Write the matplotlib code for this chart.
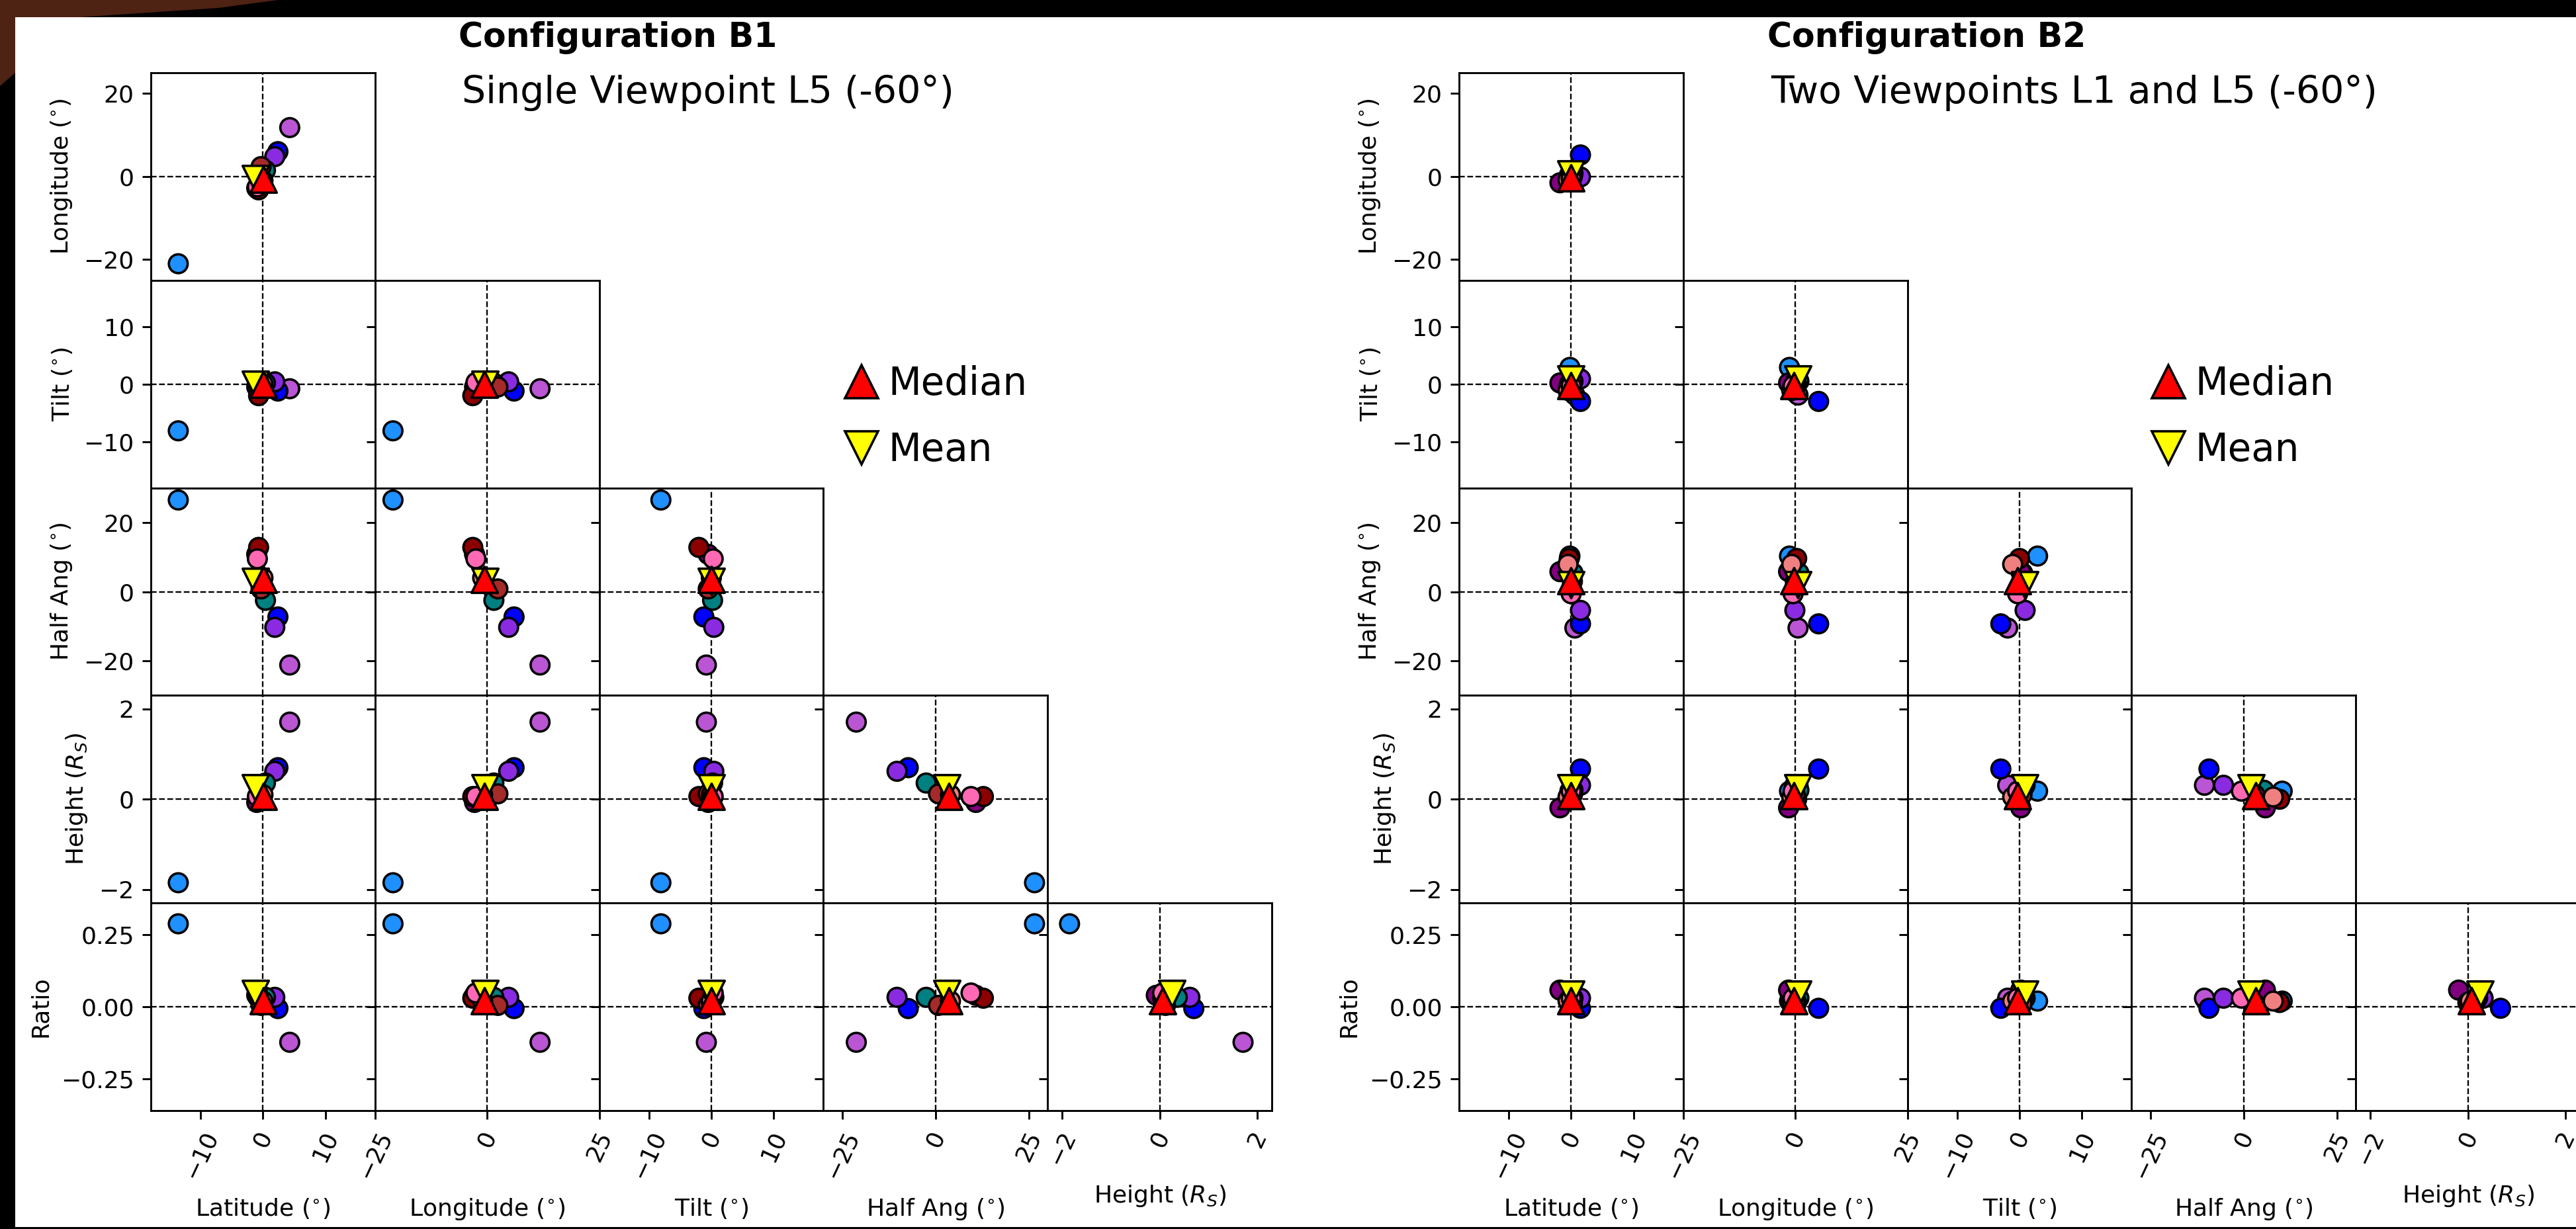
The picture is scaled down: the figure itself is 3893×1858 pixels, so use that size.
import matplotlib.pyplot as plt
from matplotlib.lines import Line2D
from matplotlib.patches import Rectangle, Polygon

W, H = 3893, 1858
DPI = 260

# parameter order: latitude, longitude, tilt, half angle, height, ratio
axis_labels = [r'Latitude ($^{\circ}$)', r'Longitude ($^{\circ}$)', r'Tilt ($^{\circ}$)',
               r'Half Ang ($^{\circ}$)', r'Height ($R_S$)', 'Ratio']
limits = [18, 25, 18, 30, 2.3, 0.36]
xticks = [[-10, 0, 10], [-25, 0, 25], [-10, 0, 10], [-25, 0, 25], [-2, 0, 2]]
yticks = [[-20, 0, 20], [-10, 0, 10], [-20, 0, 20], [-2, 0, 2], [-0.25, 0, 0.25]]

member_colors = ['dodgerblue', 'mediumorchid', 'blue', 'blueviolet', 'teal',
                 'purple', 'darkred', 'brown', 'lightcoral', 'hotpink']

# configuration B1: single viewpoint L5
b1_lat = [-13.6, 4.3, 2.4, 1.9, 0.4, -1.0, -0.7, -0.3, 0.0, -0.9]
b1_lon = [-21.0, 11.8, 6.0, 4.8, 1.5, -2.8, -3.2, 2.4, -1.0, -2.5]
b1_tilt = [-8.1, -0.8, -1.2, 0.4, 0.2, -0.5, -2.0, -0.5, 0.0, 0.3]
b1_half = [26.5, -21.2, -7.3, -10.3, -2.5, 10.8, 12.8, 0.8, 4.0, 9.5]
b1_height = [-1.85, 1.71, 0.70, 0.62, 0.36, -0.07, 0.06, 0.12, 0.10, 0.06]
b1_ratio = [0.288, -0.123, -0.006, 0.033, 0.033, 0.040, 0.030, 0.005, 0.020, 0.048]
b1_median = [0.1, -0.6, 0.0, 3.5, 0.06, 0.02]
b1_mean = [-1.2, -0.5, 0.0, 3.0, 0.25, 0.045]

# configuration B2: viewpoints L1 and L5
b2_lat = [-0.2, 0.6, 1.5, 1.5, 0.3, -1.8, -0.3, 0.2, -0.5, 0.0]
b2_lon = [-1.3, 0.6, 5.2, -0.1, 0.8, -1.5, 0.3, 0.0, -0.8, -0.5]
b2_tilt = [2.9, -1.9, -3.0, 0.9, 0.5, 0.2, 0.0, 0.4, -1.1, -0.3]
b2_half = [10.3, -10.5, -9.3, -5.4, 5.4, 5.8, 9.6, 3.0, 7.9, -0.6]
b2_height = [0.18, 0.31, 0.67, 0.31, 0.20, -0.19, 0.00, 0.10, 0.05, 0.18]
b2_ratio = [0.020, 0.030, -0.005, 0.030, 0.030, 0.058, 0.015, 0.010, 0.020, 0.030]
b2_median = [0.0, -0.3, -0.3, 3.2, 0.08, 0.02]
b2_mean = [0.0, 0.6, 0.9, 2.0, 0.25, 0.043]

configs = [
    dict(data=[b1_lat, b1_lon, b1_tilt, b1_half, b1_height, b1_ratio],
         median=b1_median, mean=b1_mean, x0=228,
         title='Configuration B1', subtitle='Single Viewpoint L5 (-60°)',
         title_x=693, legend_x=1273),
    dict(data=[b2_lat, b2_lon, b2_tilt, b2_half, b2_height, b2_ratio],
         median=b2_median, mean=b2_mean, x0=2205,
         title='Configuration B2', subtitle='Two Viewpoints L1 and L5 (-60°)',
         title_x=2671, legend_x=3248),
]

fig = plt.figure(figsize=(W / DPI, H / DPI), dpi=DPI, facecolor='black')

# slide background behind the two panels
fig.patches.append(Polygon([(0, 1), (420 / W, 1), (330 / W, 1 - 12 / H), (120 / W, 1 - 26 / H),
                            (23 / W, 1 - 26 / H), (23 / W, 1 - 110 / H), (0, 1 - 130 / H)],
                           closed=True, transform=fig.transFigure, facecolor='#4e2314',
                           edgecolor='none', zorder=-2))
fig.patches.append(Rectangle((23 / W, 3 / H), 1, (H - 29) / H, transform=fig.transFigure,
                             facecolor='white', edgecolor='none', zorder=-1))

cw, rh, top = 338.8, 313.8, 110

for cfg in configs:
    data = cfg['data']
    for i in range(5):
        for j in range(i + 1):
            left = cfg['x0'] + j * cw
            bottom = top + (i + 1) * rh
            ax = fig.add_axes([left / W, 1 - bottom / H, cw / W, rh / H])
            ax.axvline(0, ls='--', lw=0.65, color='k', zorder=1)
            ax.axhline(0, ls='--', lw=0.65, color='k', zorder=1)
            ax.scatter(data[j], data[i + 1], c=member_colors, s=62,
                       edgecolors='k', linewidths=1.0, zorder=3)
            ax.scatter(cfg['mean'][j], cfg['mean'][i + 1], marker='v', c='yellow', s=120,
                       edgecolors='k', linewidths=1.0, zorder=4)
            ax.scatter(cfg['median'][j], cfg['median'][i + 1], marker='^', c='red', s=120,
                       edgecolors='k', linewidths=1.0, zorder=5)
            ax.set_xlim(-limits[j], limits[j])
            ax.set_ylim(-limits[i + 1], limits[i + 1])
            ax.set_yticks(yticks[i])
            if j == 0:
                ax.set_ylabel(axis_labels[i + 1])
            else:
                ax.tick_params(labelleft=False)
            if i == 4:
                ax.set_xticks(xticks[j])
                ax.tick_params(axis='x', labelrotation=65)
                ax.set_xlabel(axis_labels[j], labelpad=6)
            else:
                ax.set_xticks([])

    fig.text(cfg['title_x'] / W, 1 - 71 / H, cfg['title'], ha='left', va='baseline',
             fontsize=14, fontweight='bold')
    fig.text((cfg['title_x'] + 5) / W, 1 - 156 / H, cfg['subtitle'], ha='left',
             va='baseline', fontsize=15.8)

    handles = [Line2D([], [], ls='none', marker='^', ms=14, mfc='red', mec='k', mew=1.0),
               Line2D([], [], ls='none', marker='v', ms=14, mfc='yellow', mec='k', mew=1.0)]
    fig.legend(handles, ['Median', 'Mean'], loc='upper left',
               bbox_to_anchor=(cfg['legend_x'] / W, 1 - 552 / H), frameon=False,
               fontsize=16, borderpad=0, borderaxespad=0, handlelength=1.0,
               handletextpad=0.2, labelspacing=0.75)

fig.savefig('out.png', dpi=DPI, facecolor=fig.get_facecolor())
